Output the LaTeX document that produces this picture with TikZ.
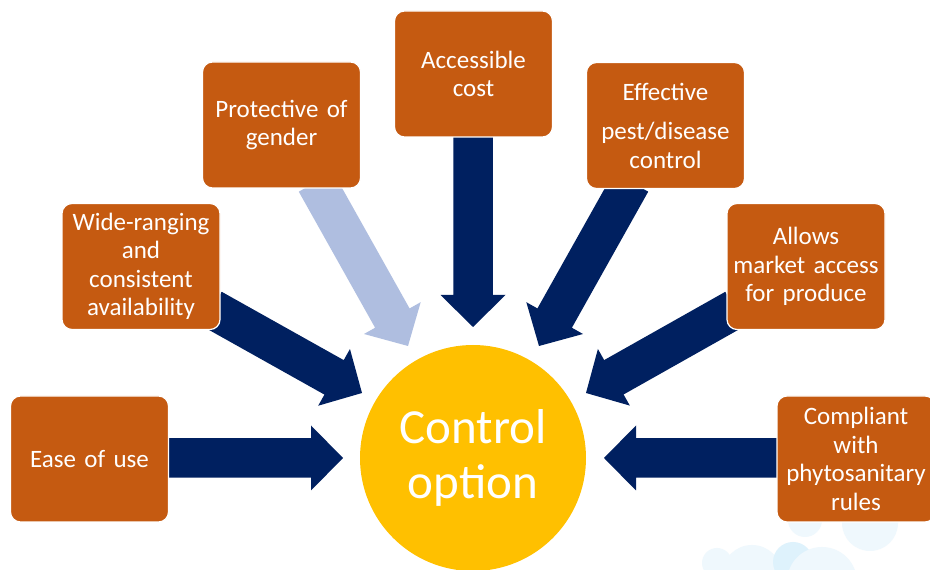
\documentclass[tikz,border=0pt]{standalone}
\usepackage{fontspec}
\setmainfont{Carlito}
\usetikzlibrary{calc}
\definecolor{boxor}{RGB}{197,90,17}
\definecolor{navy}{RGB}{0,32,96}
\definecolor{lblue}{RGB}{175,190,224}
\definecolor{gold}{RGB}{255,192,0}
\definecolor{cloudA}{RGB}{239,248,253}
\definecolor{cloudB}{RGB}{222,242,252}
\newcommand\myblockarrow[3]{%
 \coordinate (ba-h) at ($(#3)!32pt!(#2)$);
 \fill[#1] ($(#2)!19.75pt!90:(#3)$) -- ($(ba-h)!19.75pt!90:(#3)$) -- ($(ba-h)!32.5pt!90:(#3)$) -- (#3)
   -- ($(ba-h)!32.5pt!-90:(#3)$) -- ($(ba-h)!19.75pt!-90:(#3)$) -- ($(#2)!19.75pt!-90:(#3)$) -- cycle;}
\tikzset{
 box/.style={rectangle, rounded corners=10pt, fill=boxor, draw=white, line width=1.2pt,
   minimum width=158pt, minimum height=126pt, text width=150pt, align=center, text=white,
   inner sep=2pt, font=\fontsize{25}{28.5}\selectfont},
 ctrl/.style={circle, fill=gold, minimum size=226pt, inner sep=0pt, text=white, align=center,
   font=\fontsize{49}{55}\selectfont},
 cloud/.style={fill=cloudA},
}
\begin{document}
\begin{tikzpicture}[x=1pt,y=1pt]
\clip (0,0) rectangle (930,570);
\fill[white] (0,0) rectangle (930,570);
% faint background circles
\fill[cloud] (805,50) circle (17);
\fill[cloud] (870,47) circle (28);
\fill[cloud] (717,7) circle (15);
\fill[cloud] (752,-5) circle (30);
\fill[cloudB] (793,8) circle (20);
\fill[cloud] (822,-12) circle (35);
% anchor points of the arrows
\coordinate (t1) at (165,112);   \coordinate (p1) at (343,112);
\coordinate (t2) at (212,261);   \coordinate (p2) at (362,177);
\coordinate (t3) at (316,388);   \coordinate (p3) at (408,224);
\coordinate (t4) at (473,436);   \coordinate (p4) at (473,243);
\coordinate (t5) at (631,388);   \coordinate (p5) at (539,224);
\coordinate (t6) at (735,261);   \coordinate (p6) at (586,177);
\coordinate (t7) at (780,112);   \coordinate (p7) at (604,112);
\myblockarrow{navy}{t1}{p1}
\myblockarrow{navy}{t2}{p2}
\myblockarrow{lblue}{t3}{p3}
\myblockarrow{navy}{t4}{p4}
\myblockarrow{navy}{t5}{p5}
\myblockarrow{navy}{t6}{p6}
\myblockarrow{navy}{t7}{p7}
% boxes
\node[box] (ease) at (89.5,111) {Ease of use};
\node[box] (wide) at (141,303.5) {Wide-ranging\\and\\consistent\\availability};
\node[box] (prot) at (281.5,445) {Protective of\\gender};
\node[box] (cost) at (473.5,496) {Accessible\\cost};
\node[box] (eff) at (665.5,444.5) {Effective\\[11pt]pest/disease\\control};
\node[box] (allow) at (806,303.5) {Allows\\market access\\for produce};
\node[box] (comp) at (856,111) {Compliant\\with\\phytosanitary\\rules};
\node[ctrl] (ctl) at (473,112) {Control\\option};
\end{tikzpicture}
\end{document}
